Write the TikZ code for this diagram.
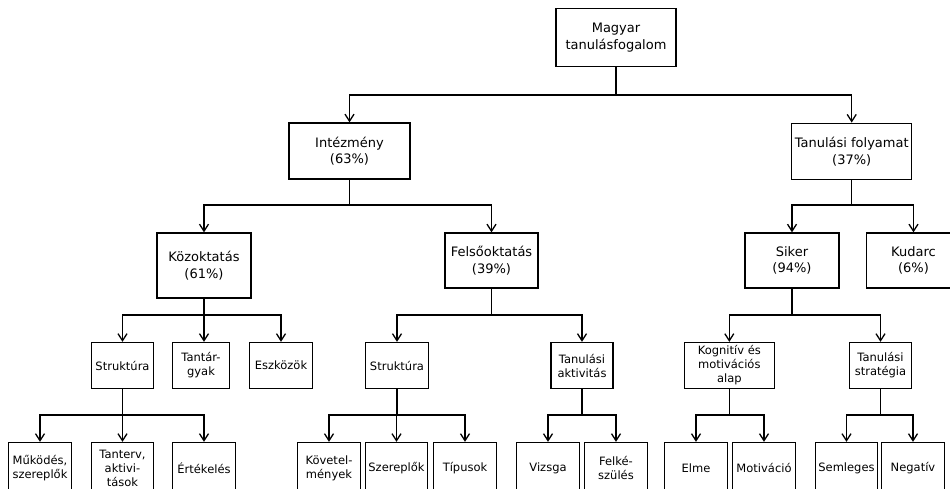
\documentclass[tikz,border=0pt]{standalone}
\usepackage{fontspec}
\setmainfont{DejaVu Sans}
\usetikzlibrary{arrows.meta}
\newcommand\tfork[3]{\draw[arr] (#1.south) -- (#1.south |- #2) -| (#3.north);}
\begin{document}
\begin{tikzpicture}[x=1pt,y=-1pt,
  box/.style={draw, line width=1.3pt, inner sep=0.5pt, align=center, anchor=center},
  big/.style={box, font=\fontsize{13}{16.5}\selectfont},
  small/.style={box, font=\fontsize{11.5}{14}\selectfont},
  lvthree/.style={small, minimum width=62.5pt, minimum height=46pt},
  lvfour/.style={small, minimum width=62.5pt, minimum height=51pt},
  arr/.style={line width=1.3pt, -{Straight Barb[length=7pt,width=9pt,line width=1.3pt]}}]
\useasboundingbox (0,0) rectangle (950,488);
\clip (0,0) rectangle (950,488);
\coordinate (y1) at (0,95);
\coordinate (y2) at (0,205);
\coordinate (y3) at (0,315);
\coordinate (y4) at (0,415);
% level 0/1
\node[big, minimum width=120pt, minimum height=58pt] (root) at (616,37.5) {Magyar\\tanulásfogalom};
\node[big, minimum width=121pt, minimum height=56pt] (intez) at (349.5,151) {Intézmény\\(63\%)};
\node[big, minimum width=120pt, minimum height=56.5pt] (tanfoly) at (851.7,151.5) {Tanulási folyamat\\(37\%)};
% level 2
\node[big, minimum width=94pt, minimum height=65pt] (kozok) at (204,265.5) {Közoktatás\\(61\%)};
\node[big, minimum width=93pt, minimum height=55pt] (felso) at (491.5,260.5) {Felsőoktatás\\(39\%)};
\node[big, minimum width=94pt, minimum height=55pt] (siker) at (792,260.5) {Siker\\(94\%)};
\node[big, minimum width=94pt, minimum height=55pt] (kudarc) at (913.5,260.5) {Kudarc\\(6\%)};
% level 3
\node[lvthree] (strL) at (122.5,365.5) {Struktúra};
\node[lvthree, minimum width=57pt] (tantar) at (201,365.5) {Tantár-\\gyak};
\node[lvthree] (eszk) at (281,365.5) {Eszközök};
\node[lvthree, minimum width=63pt] (strR) at (397,365.5) {Struktúra};
\node[lvthree, minimum width=62pt] (tanakt) at (582,365.5) {Tanulási\\aktivitás};
\node[lvthree, minimum width=90pt] (kogn) at (729.3,365.5) {Kognitív és\\motivációs\\alap};
\node[lvthree] (tanstr) at (880.5,365.5) {Tanulási\\stratégia};
% level 4
\node[lvfour] (mukod) at (40,468) {Működés,\\szereplők};
\node[lvfour] (tanterv) at (122.5,468) {Tanterv,\\aktivi-\\tások};
\node[lvfour] (ertek) at (204,468) {Értékelés};
\node[lvfour] (kovet) at (329,468) {Követel-\\mények};
\node[lvfour] (szerep) at (396.5,468) {Szereplők};
\node[lvfour] (tipus) at (465,468) {Típusok};
\node[lvfour] (vizsga) at (548,468) {Vizsga};
\node[lvfour] (felke) at (616,468) {Felké-\\szülés};
\node[lvfour] (elme) at (696,468) {Elme};
\node[lvfour] (motiv) at (764,468) {Motiváció};
\node[lvfour] (semleg) at (846.5,468) {Semleges};
\node[lvfour] (negat) at (913,468) {Negatív};
% connectors
\tfork{root}{y1}{intez}
\tfork{root}{y1}{tanfoly}
\tfork{intez}{y2}{kozok}
\tfork{intez}{y2}{felso}
\tfork{tanfoly}{y2}{siker}
\tfork{tanfoly}{y2}{kudarc}
\tfork{kozok}{y3}{strL}
\tfork{kozok}{y3}{eszk}
\draw[arr] (kozok.south) -- (kozok.south |- tantar.north);
\tfork{felso}{y3}{strR}
\tfork{felso}{y3}{tanakt}
\tfork{siker}{y3}{kogn}
\tfork{siker}{y3}{tanstr}
\tfork{strL}{y4}{mukod}
\tfork{strL}{y4}{tanterv}
\tfork{strL}{y4}{ertek}
\tfork{strR}{y4}{kovet}
\tfork{strR}{y4}{szerep}
\tfork{strR}{y4}{tipus}
\tfork{tanakt}{y4}{vizsga}
\tfork{tanakt}{y4}{felke}
\tfork{kogn}{y4}{elme}
\tfork{kogn}{y4}{motiv}
\tfork{tanstr}{y4}{semleg}
\tfork{tanstr}{y4}{negat}
\end{tikzpicture}
\end{document}
